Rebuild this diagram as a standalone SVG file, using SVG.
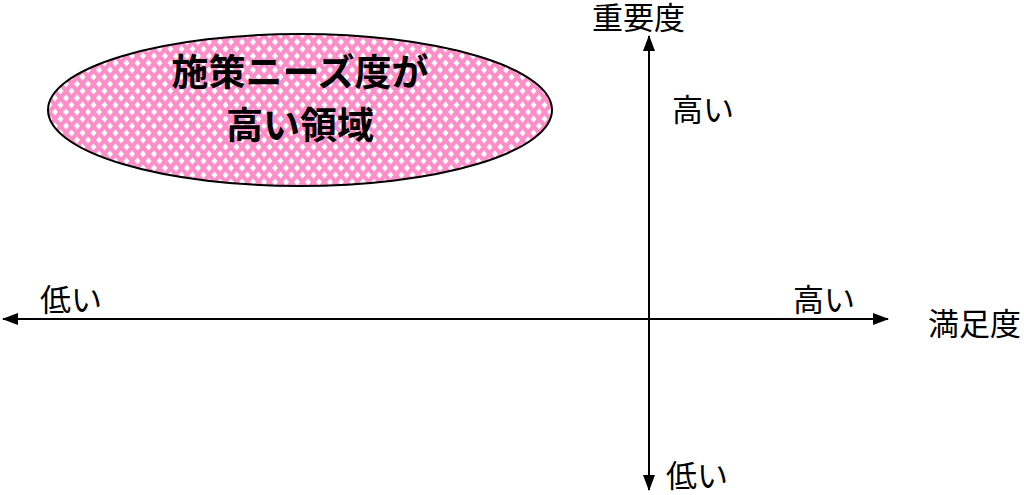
<svg xmlns="http://www.w3.org/2000/svg" width="1024" height="495" viewBox="0 0 1024 495">
<style>
.lbl{font-family:"Noto Sans CJK JP","Noto Sans CJK SC",sans-serif;font-size:31px;fill:#000}
.ttl{font-family:"Noto Sans CJK JP","Noto Sans CJK SC",sans-serif;font-size:37px;font-weight:bold;fill:#000;text-anchor:middle}
.axis{stroke:#000;stroke-width:2;fill:none}
.w{fill:#fff}
</style>
<defs>
<pattern id="dia" width="11" height="14" patternUnits="userSpaceOnUse">
<rect width="11" height="14" fill="#ff8ec8"/>
<polygon class="w" points="0,-3.6 3,0 0,3.6 -3,0"/>
<polygon class="w" points="11,-3.6 14,0 11,3.6 8,0"/>
<polygon class="w" points="0,10.4 3,14 0,17.6 -3,14"/>
<polygon class="w" points="11,10.4 14,14 11,17.6 8,14"/>
<polygon class="w" points="5.5,3.4 8.5,7 5.5,10.6 2.5,7"/>
</pattern>
<marker id="arr" viewBox="0 0 16 12" refX="15" refY="6" markerWidth="16" markerHeight="12" markerUnits="userSpaceOnUse" orient="auto">
<polygon points="0,0 16,6 0,12" fill="#000"/>
</marker>
</defs>
<g id="region">
<ellipse cx="300" cy="110" rx="252" ry="76" fill="url(#dia)" stroke="#000" stroke-width="2"/>
<text class="ttl" x="300" y="86">施策ニーズ度が</text>
<text class="ttl" x="300" y="139">高い領域</text>
</g>
<g id="connectors">
<line class="axis" x1="649" y1="480" x2="649" y2="36" marker-end="url(#arr)"/>
<line class="axis" x1="649" y1="60" x2="649" y2="490" marker-end="url(#arr)"/>
<line class="axis" x1="20" y1="319" x2="888" y2="319" marker-end="url(#arr)"/>
<line class="axis" x1="870" y1="319" x2="3" y2="319" marker-end="url(#arr)"/>
</g>
<g id="labels">
<text class="lbl" x="592" y="29">重要度</text>
<text class="lbl" x="672" y="121">高い</text>
<text class="lbl" x="666" y="487">低い</text>
<text class="lbl" x="40" y="311">低い</text>
<text class="lbl" x="793" y="311">高い</text>
<text class="lbl" x="928" y="335">満足度</text>
</g>
</svg>
